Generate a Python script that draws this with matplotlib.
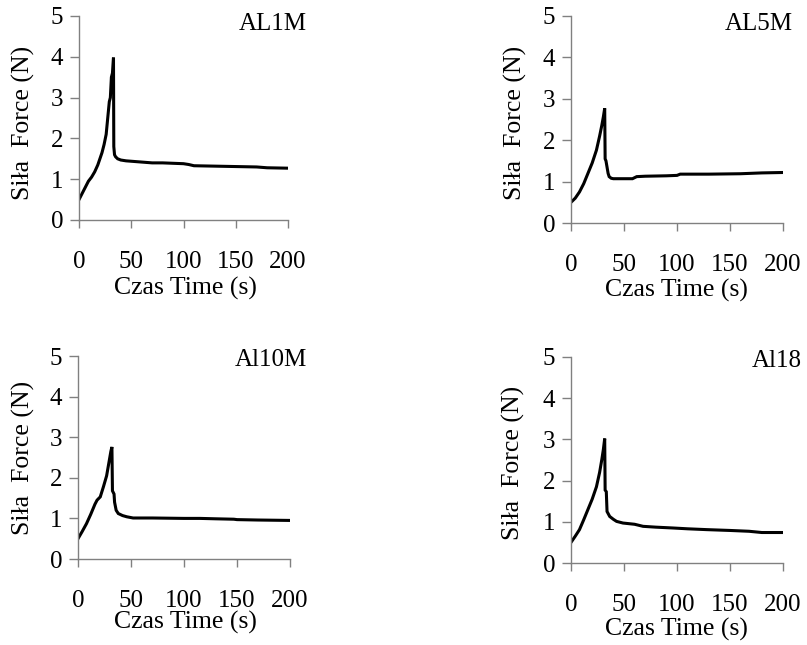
import matplotlib
matplotlib.use("Agg")
import matplotlib.pyplot as plt

plt.rcParams['font.family'] = ['Liberation Serif', 'DejaVu Serif']

# ---- data ----
titles = ["AL1M", "AL5M", "Al10M", "Al18"]

t_al1m = [0, 3, 6, 9, 12, 15, 18, 20, 22, 24, 26, 27.5, 29, 30, 31, 32, 33, 33.3, 34, 35, 37, 40, 45, 50, 60, 70, 80, 90, 100, 105, 110, 130, 150, 170, 180, 200]
f_al1m = [0.5, 0.65, 0.8, 0.95, 1.05, 1.18, 1.35, 1.5, 1.65, 1.85, 2.1, 2.5, 2.9, 3.0, 3.5, 3.6, 3.98, 1.8, 1.6, 1.55, 1.5, 1.47, 1.45, 1.44, 1.42, 1.4, 1.4, 1.39, 1.38, 1.36, 1.33, 1.32, 1.31, 1.3, 1.28, 1.27]

t_al5m = [0, 4, 8, 12, 16, 20, 24, 27, 29, 30.5, 31.8, 32.2, 33, 34, 35, 36, 38, 40, 50, 58, 62, 70, 90, 100, 103, 130, 160, 180, 200]
f_al5m = [0.5, 0.6, 0.75, 0.95, 1.2, 1.45, 1.76, 2.1, 2.35, 2.56, 2.77, 1.55, 1.5, 1.35, 1.2, 1.12, 1.08, 1.07, 1.07, 1.07, 1.12, 1.13, 1.14, 1.15, 1.18, 1.18, 1.19, 1.21, 1.22]

t_al10m = [0, 4, 8, 12, 16, 18, 21, 24, 27, 29, 31, 32, 32.5, 34, 34.5, 36, 38, 42, 46, 52, 70, 100, 115, 130, 147, 150, 170, 200]
f_al10m = [0.5, 0.68, 0.87, 1.1, 1.35, 1.45, 1.53, 1.78, 2.05, 2.35, 2.65, 2.76, 1.68, 1.6, 1.4, 1.2, 1.12, 1.07, 1.04, 1.01, 1.01, 1.0, 1.0, 0.99, 0.98, 0.97, 0.96, 0.95]

t_al18 = [0, 4, 8, 12, 16, 20, 24, 27, 29, 30.5, 31.8, 32.2, 33.3, 34, 36.5, 40, 43, 49, 60, 68, 80, 96, 110, 128, 150, 168, 180, 200]
f_al18 = [0.5, 0.65, 0.81, 1.05, 1.3, 1.55, 1.85, 2.2, 2.5, 2.75, 3.02, 1.77, 1.73, 1.25, 1.13, 1.06, 1.01, 0.97, 0.94, 0.89, 0.87, 0.85, 0.83, 0.81, 0.79, 0.77, 0.74, 0.74]

series_t = [t_al1m, t_al5m, t_al10m, t_al18]
series_f = [f_al1m, f_al5m, f_al10m, f_al18]

x_ticks = [0, 50, 100, 150, 200]
y_ticks = [0, 1, 2, 3, 4, 5]
xlabel = "Czas Time (s)"
ylabel = "Siła  Force (N)"

W, H = 807, 645
fig = plt.figure(figsize=(W / 100, H / 100), dpi=100)

# axes boxes in pixels: left, right, top, bottom
boxes = [(79, 288, 16, 220), (571, 783, 16, 223), (78, 290, 356, 559), (571, 783, 357, 563)]
title_pos = [(307, 24), (793, 24), (307, 360), (802, 361)]
xlab_pos = [(185, 288), (676, 290), (185, 622), (676, 629)]
ylab_pos = [(23, 123), (515, 123), (23, 458), (513, 463)]

fs = 18
fl = 18.5
gray = '#808080'
for i in range(4):
    l, r, t, b = boxes[i]
    ax = fig.add_axes([l / W, 1 - b / H, (r - l) / W, (b - t) / H])
    ax.plot(series_t[i], series_f[i], color='black', lw=2.2, solid_joinstyle='miter')
    ax.set_xlim(0, 200)
    ax.set_ylim(0, 5)
    ax.set_xticks(x_ticks)
    ax.set_yticks(y_ticks)
    for s in ['top', 'right']:
        ax.spines[s].set_visible(False)
    for s in ['left', 'bottom']:
        ax.spines[s].set_color(gray)
        ax.spines[s].set_linewidth(1.0)
    ax.tick_params(axis='both', direction='out', color=gray, width=1.0, labelsize=fs)
    ax.tick_params(axis='x', length=6, pad=16)
    ax.tick_params(axis='y', length=6.5, pad=5)
    tx, ty = title_pos[i]
    fig.text(tx / W, 1 - ty / H, titles[i], ha='right', va='center', fontsize=fs)
    xx, xy = xlab_pos[i]
    fig.text(xx / W, 1 - xy / H, xlabel, ha='center', va='center', fontsize=fl)
    yx, yy = ylab_pos[i]
    fig.text(yx / W, 1 - yy / H, ylabel, ha='center', va='center', rotation=90, fontsize=fl)

fig.savefig("out.png", dpi=100)
